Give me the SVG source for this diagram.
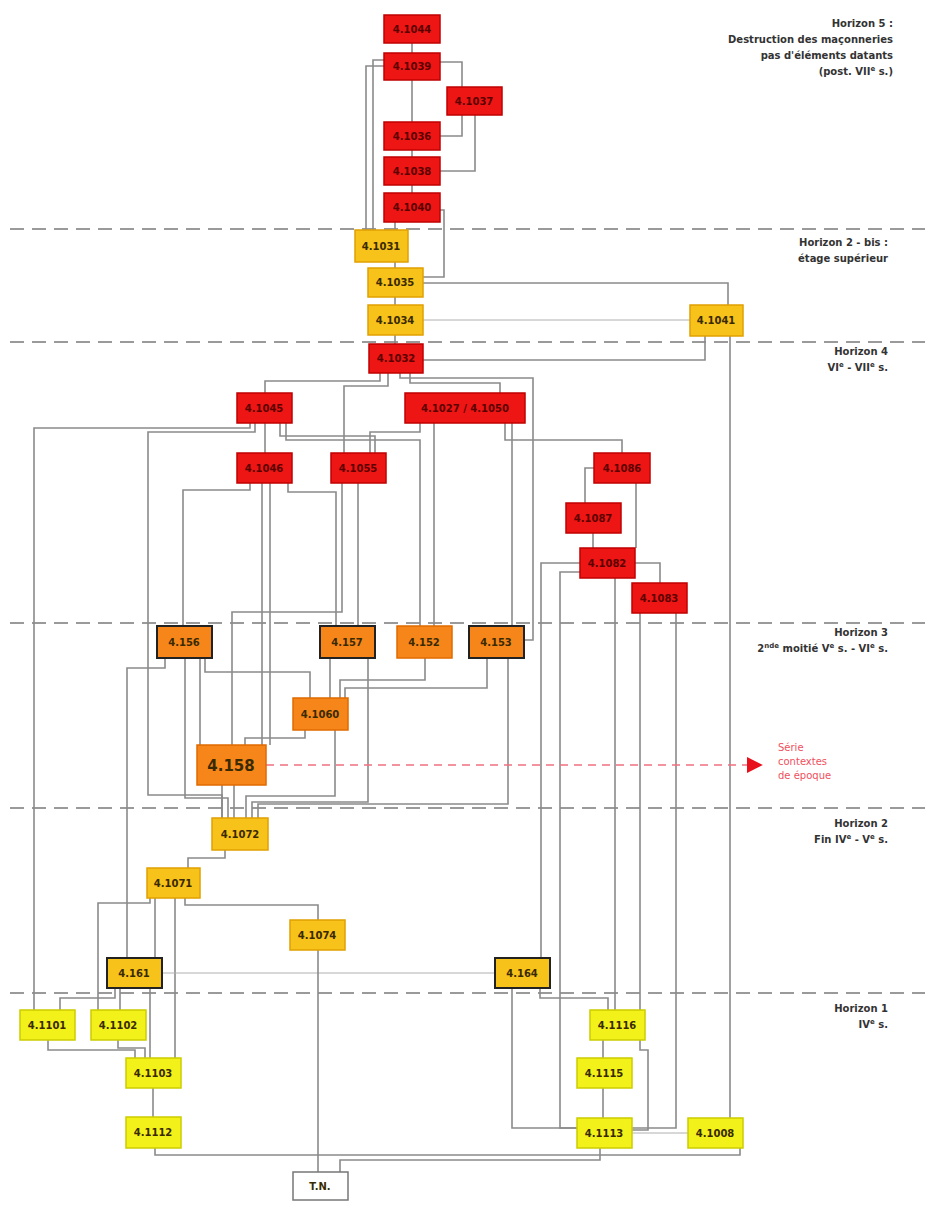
<svg xmlns="http://www.w3.org/2000/svg" width="925" height="1208" viewBox="0 0 925 1208">
<defs>
<style>
.bg{fill:#ffffff}
.hz{stroke:#9a9a9a;stroke-width:2;stroke-dasharray:14 8;fill:none}
.c{stroke:#8a8a8a;stroke-width:1.6;fill:none}
.ct{stroke:#b0b0b0;stroke-width:1;fill:none}
.red rect{fill:#ee1515;stroke:#c00000;stroke-width:1.5}
.gold rect{fill:#f7c21a;stroke:#e0a000;stroke-width:1.5}
.org rect{fill:#f7861a;stroke:#222;stroke-width:2}
.orgn rect{fill:#f7861a;stroke:#e06a00;stroke-width:1.5}
.goldb rect{fill:#f7c21a;stroke:#222;stroke-width:2}
.yel rect{fill:#f2f21a;stroke:#cccc00;stroke-width:1.5}
.wht rect{fill:#ffffff;stroke:#777;stroke-width:1.5}
.n text{font-family:"DejaVu Sans",sans-serif;font-size:10px;font-weight:bold;fill:#3a2a00;text-anchor:middle}
.red text{fill:#5a0000}
.big text{font-size:15px}
.lab{font-family:"DejaVu Sans",sans-serif;font-size:10px;font-weight:bold;fill:#333;text-anchor:end}
.rl{font-family:"DejaVu Sans",sans-serif;font-size:10px;fill:#f05060}
</style>
<marker id="ar" viewBox="0 0 10 10" refX="2" refY="5" markerWidth="16" markerHeight="16" markerUnits="userSpaceOnUse" orient="auto"><path d="M0,0 L10,5 L0,10 z" fill="#e8101a"/></marker>
</defs>
<rect class="bg" x="0" y="0" width="925" height="1208"/>

<g id="horizons">
<line class="hz" x1="10" y1="229" x2="925" y2="229"/>
<line class="hz" x1="10" y1="342" x2="925" y2="342"/>
<line class="hz" x1="10" y1="623" x2="925" y2="623"/>
<line class="hz" x1="10" y1="808" x2="925" y2="808"/>
<line class="hz" x1="10" y1="993" x2="925" y2="993"/>
</g>

<g id="labels">
<text class="lab" x="893" y="27">Horizon 5 :</text>
<text class="lab" x="893" y="43">Destruction des maçonneries</text>
<text class="lab" x="893" y="59">pas d'éléments datants</text>
<text class="lab" x="893" y="75">(post. VII<tspan font-size="7" dy="-4">e</tspan><tspan dy="4"> s.)</tspan></text>
<text class="lab" x="888" y="246">Horizon 2 - bis :</text>
<text class="lab" x="888" y="262">étage supérieur</text>
<text class="lab" x="888" y="355">Horizon 4</text>
<text class="lab" x="888" y="371">VI<tspan font-size="7" dy="-4">e</tspan><tspan dy="4"> - VII</tspan><tspan font-size="7" dy="-4">e</tspan><tspan dy="4"> s.</tspan></text>
<text class="lab" x="888" y="636">Horizon 3</text>
<text class="lab" x="888" y="652">2<tspan font-size="7" dy="-4">nde</tspan><tspan dy="4"> moitié V</tspan><tspan font-size="7" dy="-4">e</tspan><tspan dy="4"> s. - VI</tspan><tspan font-size="7" dy="-4">e</tspan><tspan dy="4"> s.</tspan></text>
<text class="lab" x="888" y="827">Horizon 2</text>
<text class="lab" x="888" y="843">Fin IV<tspan font-size="7" dy="-4">e</tspan><tspan dy="4"> - V</tspan><tspan font-size="7" dy="-4">e</tspan><tspan dy="4"> s.</tspan></text>
<text class="lab" x="888" y="1012">Horizon 1</text>
<text class="lab" x="888" y="1028">IV<tspan font-size="7" dy="-4">e</tspan><tspan dy="4"> s.</tspan></text>
<text class="rl" x="778" y="751">Série</text>
<text class="rl" x="778" y="765">contextes</text>
<text class="rl" x="778" y="779">de époque</text>
</g>

<g id="connectors">
<path class="c" d="M412 43V53"/>
<path class="c" d="M384 66H366V230"/>
<path class="c" d="M384 60H373V230"/>
<path class="c" d="M440 62H462V87"/>
<path class="c" d="M412 80V122"/>
<path class="c" d="M462 115V136H440"/>
<path class="c" d="M475 115V171H440"/>
<path class="c" d="M412 150V157"/>
<path class="c" d="M412 185V193"/>
<path class="c" d="M440 210H444V277H423"/>
<path class="c" d="M395 222V230"/>
<path class="c" d="M395 262V268"/>
<path class="c" d="M423 283H728V305"/>
<path class="c" d="M395 297V305"/>
<path class="ct" d="M423 320H690"/>
<path class="c" d="M395 335V344"/>
<path class="c" d="M423 360H705V336"/>
<path class="c" d="M730 336V1118"/>

<path class="c" d="M380 373V381H265V393"/>
<path class="c" d="M410 373V383H500V393"/>
<path class="c" d="M388 373V386H344V453"/>
<path class="c" d="M400 373V378H533V640H524"/>

<path class="c" d="M250 423V428H34V1010"/>
<path class="c" d="M255 423V432H148V795H222V818"/>
<path class="c" d="M265 423V453"/>
<path class="c" d="M280 423V436H375V453"/>
<path class="c" d="M286 423V440H420V626"/>

<path class="c" d="M420 423V432H370V453"/>
<path class="c" d="M434 423V626"/>
<path class="c" d="M512 423V626"/>
<path class="c" d="M505 423V440H622V453"/>

<path class="c" d="M250 483V490H183V626"/>
<path class="c" d="M262 483V745"/>
<path class="c" d="M270 483V745"/>
<path class="c" d="M288 483V492H336V626"/>
<path class="c" d="M358 483V626"/>
<path class="c" d="M342 483V612H232V745"/>

<path class="c" d="M594 468H585V503"/>
<path class="c" d="M636 483V548"/>
<path class="c" d="M593 533V548"/>
<path class="c" d="M635 563H660V583"/>
<path class="c" d="M580 563H541V958"/>
<path class="c" d="M580 572H560V1128H577"/>
<path class="c" d="M615 578V1010"/>
<path class="c" d="M640 613V1010"/>
<path class="c" d="M676 613V1128H632"/>

<path class="c" d="M165 658V668H127V958"/>
<path class="c" d="M205 658V672H310V698"/>
<path class="c" d="M200 658V745"/>
<path class="c" d="M185 658V798H228V818"/>
<path class="c" d="M330 658V698"/>
<path class="c" d="M368 658V802H252V818"/>
<path class="c" d="M425 658V680H340V698"/>
<path class="c" d="M487 658V688H345V698"/>
<path class="c" d="M508 658V804H258V818"/>
<path class="c" d="M305 730V738H245V745"/>
<path class="c" d="M335 730V796H246V818"/>
<path class="c" d="M222 785V818"/>
<path class="c" d="M234 785V818"/>

<path class="c" d="M225 850V858H188V868"/>
<path class="c" d="M155 898V958"/>
<path class="c" d="M185 898V905H318V920"/>
<path class="c" d="M175 898V1058"/>
<path class="c" d="M150 898V903H98V1010"/>
<path class="c" d="M115 988V998H60V1010"/>
<path class="c" d="M120 988V1010"/>
<path class="c" d="M150 988V1058"/>
<path class="ct" d="M162 973H495"/>
<path class="c" d="M48 1040V1050H135V1058"/>
<path class="c" d="M118 1040V1048H145V1058"/>
<path class="c" d="M153 1088V1117"/>
<path class="c" d="M155 1148V1155H740V1148"/>
<path class="c" d="M318 950V1172"/>
<path class="c" d="M600 1148V1160H340V1172"/>

<path class="c" d="M512 988V1128H577"/>
<path class="c" d="M540 988V998H608V1010"/>
<path class="c" d="M603 1040V1058"/>
<path class="c" d="M640 1040V1050H648V1130H632"/>
<path class="c" d="M603 1088V1118"/>
<path class="ct" d="M632 1133H688"/>

<path d="M266 765H750" stroke="#f07080" stroke-width="1.5" stroke-dasharray="8 6" fill="none" marker-end="url(#ar)"/>
</g>

<g id="n4-1044" class="n red"><rect x="384" y="15" width="56" height="28"/><text x="412" y="33">4.1044</text></g>
<g id="n4-1039" class="n red"><rect x="384" y="53" width="56" height="27"/><text x="412" y="70">4.1039</text></g>
<g id="n4-1037" class="n red"><rect x="447" y="87" width="55" height="28"/><text x="474" y="105">4.1037</text></g>
<g id="n4-1036" class="n red"><rect x="384" y="122" width="56" height="28"/><text x="412" y="140">4.1036</text></g>
<g id="n4-1038" class="n red"><rect x="384" y="157" width="56" height="28"/><text x="412" y="175">4.1038</text></g>
<g id="n4-1040" class="n red"><rect x="384" y="193" width="56" height="29"/><text x="412" y="211">4.1040</text></g>

<g id="n4-1031" class="n gold"><rect x="355" y="230" width="53" height="32"/><text x="381" y="250">4.1031</text></g>
<g id="n4-1035" class="n gold"><rect x="368" y="268" width="55" height="29"/><text x="395" y="286">4.1035</text></g>
<g id="n4-1034" class="n gold"><rect x="368" y="305" width="55" height="30"/><text x="395" y="324">4.1034</text></g>
<g id="n4-1041" class="n gold"><rect x="690" y="305" width="53" height="31"/><text x="716" y="324">4.1041</text></g>
<g id="n4-1032" class="n red"><rect x="369" y="344" width="54" height="29"/><text x="396" y="362">4.1032</text></g>

<g id="n4-1045" class="n red"><rect x="237" y="393" width="55" height="30"/><text x="264" y="412">4.1045</text></g>
<g id="n4-1027" class="n red"><rect x="405" y="393" width="120" height="30"/><text x="465" y="412">4.1027 / 4.1050</text></g>
<g id="n4-1046" class="n red"><rect x="237" y="453" width="55" height="30"/><text x="264" y="472">4.1046</text></g>
<g id="n4-1055" class="n red"><rect x="331" y="453" width="55" height="30"/><text x="358" y="472">4.1055</text></g>
<g id="n4-1086" class="n red"><rect x="594" y="453" width="56" height="30"/><text x="622" y="472">4.1086</text></g>
<g id="n4-1087" class="n red"><rect x="566" y="503" width="55" height="30"/><text x="593" y="522">4.1087</text></g>
<g id="n4-1082" class="n red"><rect x="580" y="548" width="55" height="30"/><text x="607" y="567">4.1082</text></g>
<g id="n4-1083" class="n red"><rect x="632" y="583" width="55" height="30"/><text x="659" y="602">4.1083</text></g>

<g id="n4-156" class="n org"><rect x="157" y="626" width="55" height="32"/><text x="184" y="646">4.156</text></g>
<g id="n4-157" class="n org"><rect x="320" y="626" width="55" height="32"/><text x="347" y="646">4.157</text></g>
<g id="n4-152" class="n orgn"><rect x="397" y="626" width="55" height="32"/><text x="424" y="646">4.152</text></g>
<g id="n4-153" class="n org"><rect x="469" y="626" width="55" height="32"/><text x="496" y="646">4.153</text></g>
<g id="n4-1060" class="n orgn"><rect x="293" y="698" width="55" height="32"/><text x="320" y="718">4.1060</text></g>
<g id="n4-158" class="n orgn big"><rect x="197" y="745" width="69" height="40"/><text x="231" y="771">4.158</text></g>

<g id="n4-1072" class="n gold"><rect x="212" y="818" width="56" height="32"/><text x="240" y="838">4.1072</text></g>
<g id="n4-1071" class="n gold"><rect x="147" y="868" width="53" height="30"/><text x="173" y="887">4.1071</text></g>
<g id="n4-1074" class="n gold"><rect x="290" y="920" width="55" height="30"/><text x="317" y="939">4.1074</text></g>
<g id="n4-161" class="n goldb"><rect x="107" y="958" width="55" height="30"/><text x="134" y="977">4.161</text></g>
<g id="n4-164" class="n goldb"><rect x="495" y="958" width="55" height="30"/><text x="522" y="977">4.164</text></g>

<g id="n4-1101" class="n yel"><rect x="20" y="1010" width="55" height="30"/><text x="47" y="1029">4.1101</text></g>
<g id="n4-1102" class="n yel"><rect x="91" y="1010" width="55" height="30"/><text x="118" y="1029">4.1102</text></g>
<g id="n4-1103" class="n yel"><rect x="126" y="1058" width="55" height="30"/><text x="153" y="1077">4.1103</text></g>
<g id="n4-1112" class="n yel"><rect x="126" y="1117" width="55" height="31"/><text x="153" y="1136">4.1112</text></g>
<g id="n4-1116" class="n yel"><rect x="590" y="1010" width="55" height="30"/><text x="617" y="1029">4.1116</text></g>
<g id="n4-1115" class="n yel"><rect x="577" y="1058" width="55" height="30"/><text x="604" y="1077">4.1115</text></g>
<g id="n4-1113" class="n yel"><rect x="577" y="1118" width="55" height="30"/><text x="604" y="1137">4.1113</text></g>
<g id="n4-1008" class="n yel"><rect x="688" y="1118" width="55" height="30"/><text x="715" y="1137">4.1008</text></g>
<g id="nTN" class="n wht"><rect x="293" y="1172" width="55" height="28"/><text x="320" y="1190">T.N.</text></g>
</svg>
